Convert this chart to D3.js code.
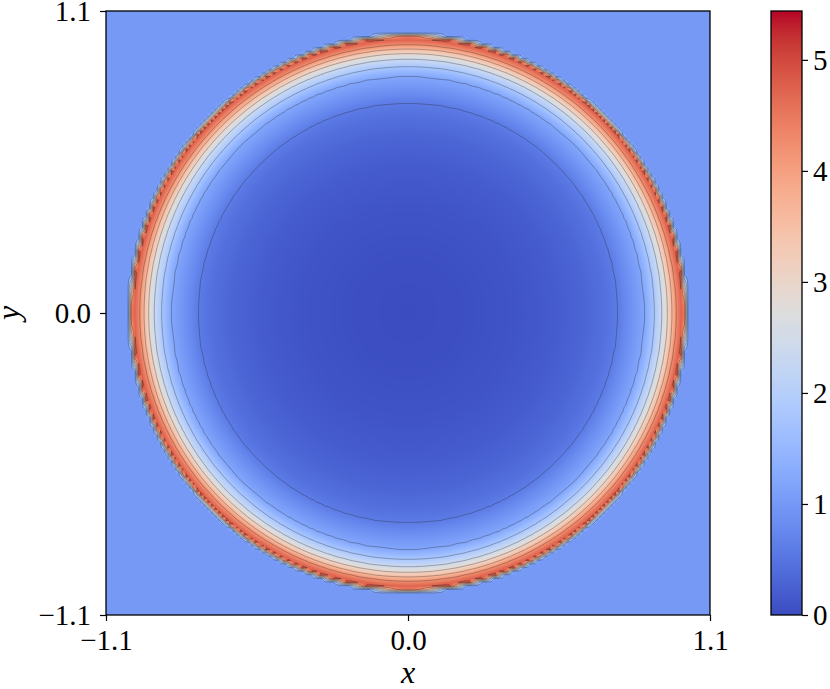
<!DOCTYPE html>
<html>
<head>
<meta charset="utf-8">
<script src="https://cdn.jsdelivr.net/npm/d3@7"></script>
<style>
  body { margin: 0; background: #fff; }
</style>
</head>
<body>
<div id="chart"></div>
<script>
// radial profile of the field (radius -> value)
var profileRadius = [0, 0.2, 0.4, 0.55, 0.65, 0.72, 0.765, 0.81, 0.862, 0.898, 0.925, 0.945, 0.962, 0.976, 0.989, 1.0, 1.006, 1.017, 1.6];
var profileValue  = [0.0, 0.03, 0.1, 0.2, 0.32, 0.45, 0.6, 0.88, 1.2, 1.8, 2.4, 3.0, 3.6, 4.2, 4.6, 4.85, 4.95, 1.0, 1.0];

// contour levels drawn as thin lines
var contourLevels = [0.6, 1.2, 1.8, 2.4, 3.0, 3.6, 4.2, 4.8, 5.4];

// axes and colorbar
var xTicks = [-1.1, 0.0, 1.1];
var yTicks = [-1.1, 0.0, 1.1];
var colorbarTicks = [0, 1, 2, 3, 4, 5];
var colorMin = 0, colorMax = 5.44;

// matplotlib "coolwarm" control colours
var coolwarmStops = [
  [0.2298,0.2987,0.7537],[0.2662,0.3531,0.8015],[0.3039,0.4065,0.8450],[0.3428,0.4588,0.8837],
  [0.3830,0.5094,0.9174],[0.4244,0.5581,0.9456],[0.4667,0.6046,0.9682],[0.5096,0.6483,0.9848],
  [0.5530,0.6889,0.9954],[0.5963,0.7261,0.9998],[0.6392,0.7596,0.9982],[0.6813,0.7890,0.9904],
  [0.7222,0.8140,0.9766],[0.7615,0.8343,0.9569],[0.7987,0.8498,0.9317],[0.8335,0.8602,0.9011],
  [0.8654,0.8654,0.8654],[0.8978,0.8489,0.8209],[0.9241,0.8274,0.7745],[0.9445,0.8009,0.7267],
  [0.9589,0.7698,0.6780],[0.9673,0.7341,0.6288],[0.9700,0.6943,0.5794],[0.9668,0.6504,0.5303],
  [0.9580,0.6028,0.4818],[0.9437,0.5518,0.4342],[0.9239,0.4973,0.3880],[0.8990,0.4396,0.3432],
  [0.8692,0.3783,0.3003],[0.8346,0.3129,0.2593],[0.7956,0.2413,0.2205],[0.7525,0.1572,0.1841],
  [0.7057,0.0156,0.1502]
];

var svgWidth = 830, svgHeight = 689;
var margin = { left: 106, top: 11 };
var plotSize = 604;
var nodes = 167; // mesh nodes per side
var serif = "'Liberation Serif', 'Times New Roman', Times, 'DejaVu Serif', serif";

var svg = d3.select("#chart").append("svg")
  .attr("width", svgWidth)
  .attr("height", svgHeight);

var cmap = d3.piecewise(d3.interpolateRgb, coolwarmStops.map(function(c) {
  return d3.rgb(c[0] * 255, c[1] * 255, c[2] * 255);
}));
var color = d3.scaleSequential(cmap).domain([colorMin, colorMax]).clamp(true);

var xScale = d3.scaleLinear().domain([-1.1, 1.1]).range([margin.left, margin.left + plotSize]);
var yScale = d3.scaleLinear().domain([-1.1, 1.1]).range([margin.top + plotSize, margin.top]);
var profile = d3.scaleLinear().domain(profileRadius).range(profileValue).clamp(true);

// mesh values (row 0 = top)
var grid = new Float64Array(nodes * nodes);
var gx = d3.scaleLinear().domain([0, nodes - 1]).range([-1.1, 1.1]);
var gy = d3.scaleLinear().domain([0, nodes - 1]).range([1.1, -1.1]);
for (var j = 0; j < nodes; j++) {
  for (var i = 0; i < nodes; i++) {
    var x = gx(i), y = gy(j);
    grid[j * nodes + i] = profile(Math.sqrt(x * x + y * y));
  }
}

// fill: bilinear shading of the mesh into a canvas
var canvas = document.createElement("canvas");
canvas.width = plotSize; canvas.height = plotSize;
var ctx = canvas.getContext("2d");
var img = ctx.createImageData(plotSize, plotSize);
var pxToGrid = d3.scaleLinear().domain([0, plotSize]).range([0, nodes - 1]);
for (var py = 0; py < plotSize; py++) {
  var fy = pxToGrid(py + 0.5), j0 = Math.min(Math.floor(fy), nodes - 2), ty = fy - j0;
  for (var px = 0; px < plotSize; px++) {
    var fx = pxToGrid(px + 0.5), i0 = Math.min(Math.floor(fx), nodes - 2), tx = fx - i0;
    var v00 = grid[j0 * nodes + i0], v10 = grid[j0 * nodes + i0 + 1];
    var v01 = grid[(j0 + 1) * nodes + i0], v11 = grid[(j0 + 1) * nodes + i0 + 1];
    var v = (v00 * (1 - tx) + v10 * tx) * (1 - ty) + (v01 * (1 - tx) + v11 * tx) * ty;
    var c = d3.rgb(color(v));
    var k = (py * plotSize + px) * 4;
    img.data[k] = c.r; img.data[k + 1] = c.g; img.data[k + 2] = c.b; img.data[k + 3] = 255;
  }
}
ctx.putImageData(img, 0, 0);

svg.append("defs").append("clipPath").attr("id", "plotClip")
  .append("rect")
  .attr("x", margin.left).attr("y", margin.top)
  .attr("width", plotSize).attr("height", plotSize);

svg.append("image")
  .attr("x", margin.left).attr("y", margin.top)
  .attr("width", plotSize).attr("height", plotSize)
  .attr("preserveAspectRatio", "none")
  .attr("href", canvas.toDataURL());

// contour lines
var contours = d3.contours().size([nodes, nodes]).thresholds(contourLevels)(grid);
var cx = d3.scaleLinear().domain([0.5, nodes - 0.5]).range([margin.left, margin.left + plotSize]);
var cy = d3.scaleLinear().domain([0.5, nodes - 0.5]).range([margin.top, margin.top + plotSize]);
var path = d3.geoPath(d3.geoTransform({
  point: function(x, y) { this.stream.point(cx(x), cy(y)); }
}));

svg.append("g")
  .attr("clip-path", "url(#plotClip)")
  .selectAll("path")
  .data(contours)
  .enter()
  .append("path")
  .attr("d", path)
  .attr("fill", "none")
  .attr("stroke", "#222")
  .attr("stroke-opacity", 0.55)
  .attr("stroke-width", 0.6);

// frame
svg.append("rect")
  .attr("x", margin.left).attr("y", margin.top)
  .attr("width", plotSize).attr("height", plotSize)
  .attr("fill", "none")
  .attr("stroke", "#000")
  .attr("stroke-width", 1.3);

var fmt = d3.format(".1f");

var bottomAxis = d3.axisBottom(xScale).tickValues(xTicks).tickFormat(fmt).tickSize(6).tickSizeOuter(0).tickPadding(8);
var leftAxis = d3.axisLeft(yScale).tickValues(yTicks).tickFormat(fmt).tickSize(6).tickSizeOuter(0).tickPadding(9);

var gBottom = svg.append("g")
  .attr("transform", "translate(0," + (margin.top + plotSize) + ")")
  .call(bottomAxis);
var gLeft = svg.append("g")
  .attr("transform", "translate(" + margin.left + ",0)")
  .call(leftAxis);

[gBottom, gLeft].forEach(function(g) {
  g.attr("font-family", null).attr("font-size", null);
  g.select(".domain").remove();
  g.selectAll(".tick line").attr("stroke", "#000").attr("stroke-width", 1.2);
  g.selectAll(".tick text").attr("fill", "#000").style("font-family", serif).style("font-size", "29px");
});

// axis labels
svg.append("text")
  .attr("x", xScale(0)).attr("y", 683)
  .attr("text-anchor", "middle")
  .style("font-family", serif)
  .style("font-size", "32px")
  .style("font-style", "italic")
  .text("x");

svg.append("text")
  .attr("transform", "translate(19," + yScale(0) + ") rotate(-90)")
  .attr("text-anchor", "middle")
  .style("font-family", serif)
  .style("font-size", "32px")
  .style("font-style", "italic")
  .text("y");

// colorbar
var cbX = 771, cbW = 31;
var cbScale = d3.scaleLinear().domain([colorMin, colorMax]).range([margin.top + plotSize, margin.top]);

var grad = svg.select("defs").append("linearGradient")
  .attr("id", "cbGrad")
  .attr("x1", 0).attr("y1", 1).attr("x2", 0).attr("y2", 0);
grad.selectAll("stop")
  .data(d3.range(0, 1.0001, 0.02))
  .enter()
  .append("stop")
  .attr("offset", function(t) { return t; })
  .attr("stop-color", function(t) { return cmap(t); });

svg.append("rect")
  .attr("x", cbX).attr("y", margin.top)
  .attr("width", cbW).attr("height", plotSize)
  .attr("fill", "url(#cbGrad)")
  .attr("stroke", "#000")
  .attr("stroke-width", 1.3);

var cbAxis = d3.axisRight(cbScale).tickValues(colorbarTicks).tickFormat(d3.format("d")).tickSize(6).tickSizeOuter(0).tickPadding(5);
var gCb = svg.append("g")
  .attr("transform", "translate(" + (cbX + cbW) + ",0)")
  .call(cbAxis);
gCb.attr("font-family", null).attr("font-size", null);
gCb.select(".domain").remove();
gCb.selectAll(".tick line").attr("stroke", "#000").attr("stroke-width", 1.2);
gCb.selectAll(".tick text").attr("fill", "#000").style("font-family", serif).style("font-size", "29px");
</script>
</body>
</html>
